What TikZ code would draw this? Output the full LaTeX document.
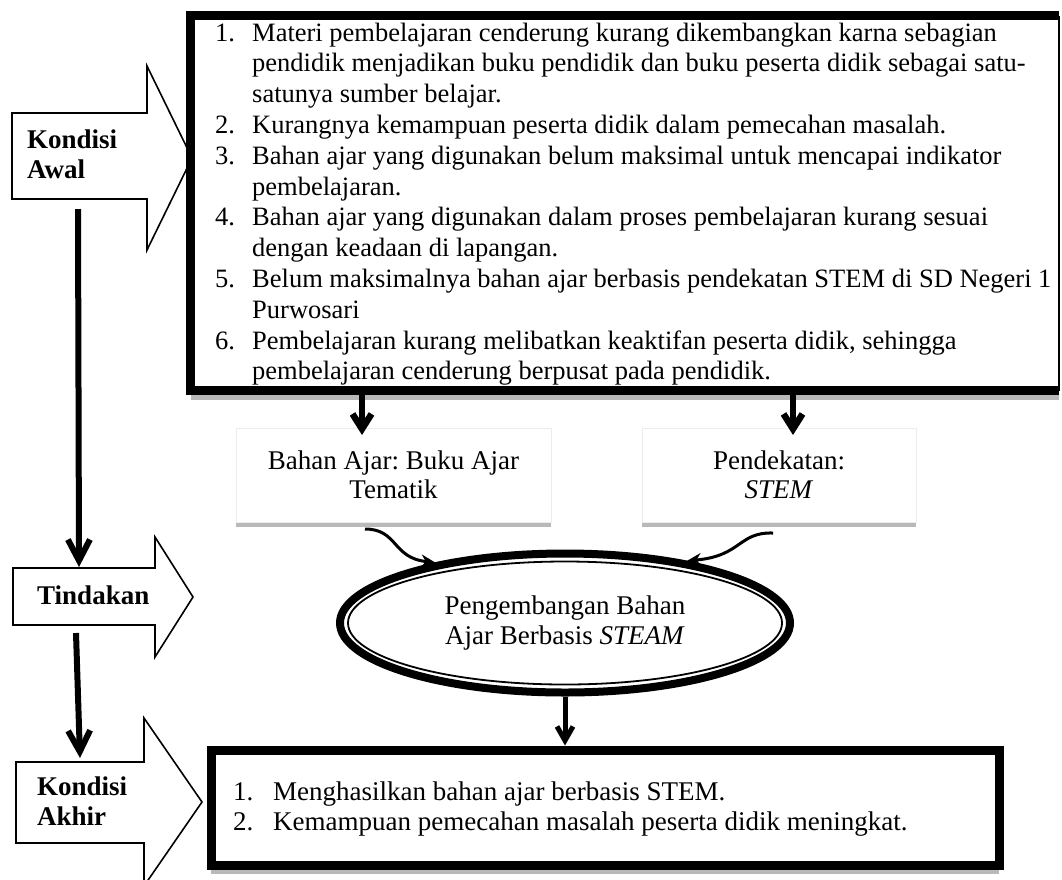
\documentclass[tikz,border=0pt]{standalone}
\usepackage{fontspec}
\setmainfont{Liberation Serif}
\usetikzlibrary{arrows.meta,shadows,shapes.geometric}
\frenchspacing

\tikzset{
  txt/.style={font=\fontsize{27}{30.8}\selectfont, inner sep=0pt},
  listtxt/.style={font=\fontsize{26.5}{30.8}\selectfont, inner sep=0pt},
  blockarr/.style={draw, fill=white, line width=1.6pt, line join=miter},
  bigbox/.style={fill=white, inner sep=0pt,
    drop shadow={shadow xshift=0pt, shadow yshift=-9pt, fill=gray!55, opacity=1}},
  lightbox/.style={draw=gray!15, line width=1pt, fill=white, inner sep=0pt, align=center,
    font=\fontsize{27}{29}\selectfont,
    drop shadow={shadow xshift=0pt, shadow yshift=-4.5pt, fill=gray!55, opacity=1}},
  sidearr/.style={line width=6pt, -{Straight Barb[length=21pt, width=22pt]}},
  downarr/.style={line width=6.5pt, -{Straight Barb[length=15pt, width=19pt]}},
  curvearr/.style={line width=3pt, -{Stealth[length=14pt, width=13pt]}},
}

\begin{document}
\begin{tikzpicture}[x=1pt, y=-1pt]
\useasboundingbox (0,0) rectangle (1062,879);

%Left arrows
\draw[blockarr] (12,113) -- (147,113) -- (147,66) -- (192,158) -- (147,250) -- (147,199) -- (12,199) -- cycle;
\draw[blockarr] (13,568) -- (155,568) -- (155,537) -- (193,597) -- (155,657) -- (155,625) -- (13,625) -- cycle;
\draw[blockarr] (16,762) -- (144,762) -- (144,718) -- (202,802) -- (144,886) -- (144,843) -- (16,843) -- cycle;

\node[txt, anchor=north west] (awal) at (27,126.4){\bfseries\begin{tabular}{@{}l@{}}Kondisi\\ Awal\end{tabular}};
\node[txt, anchor=north west] (tindakan) at (37,582.4){\bfseries\begin{tabular}{@{}l@{}}Tindakan\end{tabular}};
\node[txt, anchor=north west] (akhir) at (37,773.4){\bfseries\begin{tabular}{@{}l@{}}Kondisi\\ Akhir\end{tabular}};

%Top box
\node[bigbox, minimum width=868pt, minimum height=374.5pt] (topbox) at (625,203.25){};
\draw[line width=9pt] (topbox.north east) -- (topbox.north west) -- (topbox.south west) -- (topbox.south east);
\draw[line width=1.5pt] (topbox.north east) -- (topbox.south east);

\node[listtxt, anchor=north west] (awallist) at (215,19.4){%
\begin{tabular}{@{}p{37pt}@{}l@{}}
1. & Materi pembelajaran cenderung kurang dikembangkan karna sebagian\\
   & pendidik menjadikan buku pendidik dan buku peserta didik sebagai satu-\\
   & satunya sumber belajar.\\
2. & Kurangnya kemampuan peserta didik dalam pemecahan masalah.\\
3. & Bahan ajar yang digunakan belum maksimal untuk mencapai indikator\\
   & pembelajaran.\\
4. & Bahan ajar yang digunakan dalam proses pembelajaran kurang sesuai\\
   & dengan keadaan di lapangan.\\
5. & Belum maksimalnya bahan ajar berbasis pendekatan STEM di SD Negeri 1\\
   & Purwosari\\
6. & Pembelajaran kurang melibatkan keaktifan peserta didik, sehingga\\
   & pembelajaran cenderung berpusat pada pendidik.
\end{tabular}};

%Middle boxes
\node[lightbox, minimum width=315pt, minimum height=94pt] (bahan) at (393.5,475){Bahan Ajar: Buku Ajar\\Tematik};
\node[lightbox, minimum width=274pt, minimum height=94pt] (stem) at (779,475){Pendekatan:\\\textit{STEM}};

%Ellipse
\node[draw, ellipse, line width=8pt, fill=white, inner sep=0pt, minimum width=450pt, minimum height=139pt,
  align=center, font=\fontsize{27}{30.8}\selectfont] (dev) at (565,623){Pengembangan Bahan\\Ajar Berbasis \textit{STEAM}};
\draw[line width=1.8pt] (dev.center) ellipse [x radius=217, y radius=61.5];

%Bottom box
\node[bigbox, draw, line width=9pt, minimum width=788pt, minimum height=115pt] (outbox) at (605,807.5){};
\node[txt, anchor=north west] (akhirlist) at (233,778.4){%
\begin{tabular}{@{}p{40pt}@{}l@{}}
1. & Menghasilkan bahan ajar berbasis STEM.\\
2. & Kemampuan pemecahan masalah peserta didik meningkat.
\end{tabular}};

%Connectors
\coordinate (awalS) at (78,209);
\coordinate (tindN) at (79,567);
\coordinate (tindS) at (76,633);
\coordinate (akhirN) at (80,758);
\draw[sidearr] (awalS) -- (tindN);
\draw[sidearr] (tindS) -- (akhirN);

\coordinate (a1) at (362,435);
\coordinate (a2) at (793,435);
\draw[downarr] (topbox.south -| a1) -- (a1);
\draw[downarr] (topbox.south -| a2) -- (a2);

\coordinate (c1) at (365,529);
\coordinate (c2) at (773,533);
\draw[curvearr] (c1) .. controls (398,529) and (392,558) .. (dev.155);
\draw[curvearr] (c2) .. controls (738,532) and (742,556) .. (dev.27);

\draw[line width=5pt, -{Straight Barb[length=14pt, width=16pt]}] (dev.south) -- (dev.south |- outbox.north);

\end{tikzpicture}
\end{document}
